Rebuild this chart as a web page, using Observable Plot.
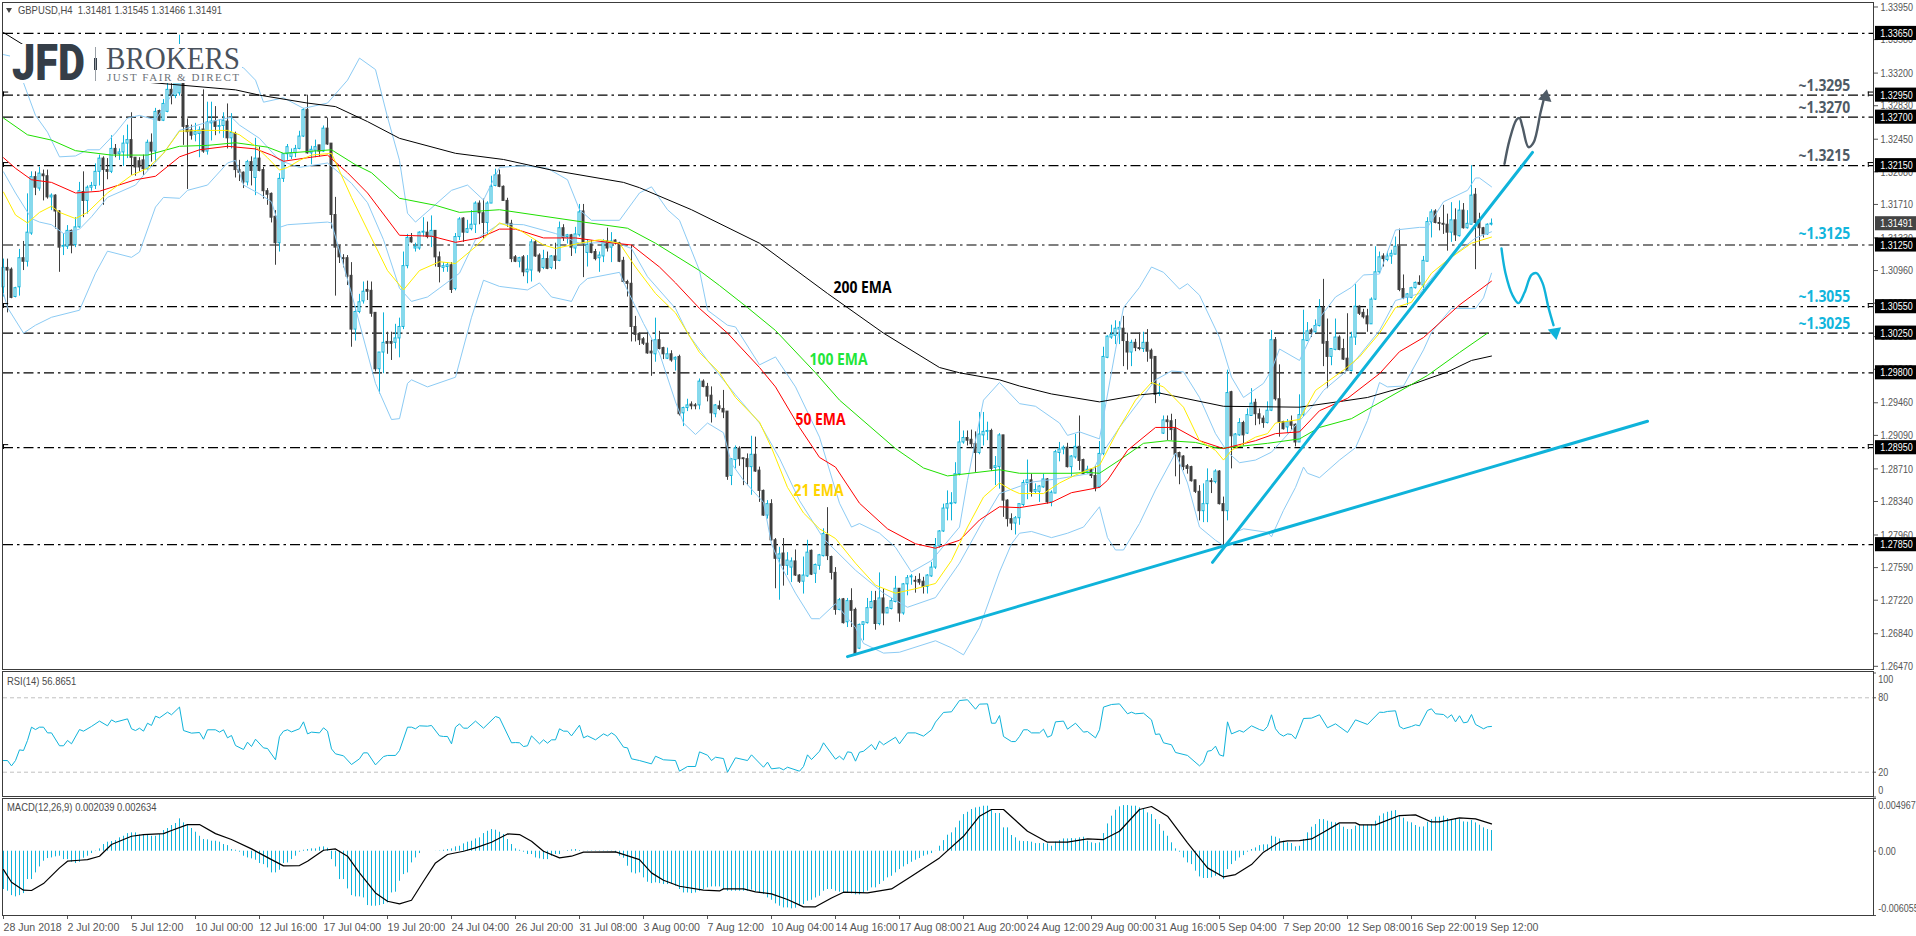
<!DOCTYPE html>
<html><head><meta charset="utf-8">
<script src="https://cdn.jsdelivr.net/npm/d3@7"></script>
<script src="https://cdn.jsdelivr.net/npm/@observablehq/plot@0.6"></script>
<style>
html,body{margin:0;padding:0;background:#fff;overflow:hidden}
#chart{position:relative;width:1916px;height:936px}
#chart>svg{position:absolute;left:0;display:block}
.ptxt{position:absolute;font:11.5px "Liberation Sans",sans-serif;color:#4a4a4a;white-space:pre;line-height:13px;transform:scaleX(.82);transform-origin:left center}
</style></head><body><div id="chart"></div>
<script>
// OHLC readings in pips (price x 10000): [open, high, low, close]
const barsA=[[13077,13109,13066,13099],[13099,13109,13048,13096],[13097,13099,13064,13065],[13066,13077,13065,13076],[13077,13120,13067,13110],[13110,13129,13096,13106],[13106,13183,13100,13139],[13138,13208,13136,13202],[13202,13208,13181,13190],[13189,13213,13186,13206],[13205,13210,13175,13203],[13203,13210,13177,13179],[13179,13183,13164,13181],[13181,13182,13143,13163],[13163,13164,13094,13122],[13123,13138,13113,13124],[13123,13147,13120,13141],[13141,13142,13115,13125],[13125,13156,13122,13145],[13145,13196,13144,13186],[13185,13208,13156,13175],[13175,13192,13160,13190],[13190,13196,13186,13192],[13192,13217,13188,13208],[13208,13227,13192,13223],[13223,13225,13170,13210],[13210,13223,13199,13208],[13208,13249,13206,13234],[13234,13239,13224,13228],[13228,13234,13221,13230],[13230,13249,13214,13240],[13240,13261,13223,13244],[13244,13275,13204,13224],[13224,13224,13203,13213],[13220,13224,13208,13213],[13221,13227,13204,13211],[13211,13244,13210,13241],[13241,13251,13219,13231],[13231,13280,13219,13276],[13277,13278,13265,13266],[13266,13290,13265,13285],[13276,13309,13275,13301],[13301,13308,13284,13294],[13294,13316,13291,13310],[13297,13363,13294,13312],[13310,13314,13238,13259],[13260,13268,13188,13253],[13255,13261,13244,13249],[13250,13263,13242,13253],[13251,13259,13224,13255],[13256,13301,13229,13231],[13231,13287,13227,13264],[13263,13287,13243,13265],[13265,13282,13249,13259],[13259,13267,13251,13260],[13260,13275,13246,13266],[13265,13285,13234,13246],[13246,13274,13234,13252],[13251,13253,13201,13210],[13210,13221,13197,13207],[13207,13208,13189,13196],[13196,13221,13192,13219],[13219,13225,13192,13209],[13201,13246,13181,13223],[13223,13236,13208,13209],[13210,13213,13177,13186],[13186,13189,13170,13182],[13183,13184,13150,13156],[13157,13164,13102,13127],[13127,13206,13117,13200],[13200,13228,13196,13228],[13228,13239,13221,13236],[13225,13234,13222,13229],[13229,13238,13224,13234],[13234,13254,13233,13248],[13248,13280,13247,13278],[13278,13295,13228,13229],[13229,13237,13216,13233],[13232,13244,13224,13236],[13238,13238,13225,13231],[13231,13260,13230,13257],[13257,13269,13238,13239],[13240,13240,13143,13159],[13159,13179,13067,13122],[13123,13124,13104,13111],[13110,13114,13099,13109],[13110,13113,13079,13089],[13090,13105,13009,13029],[13029,13055,13016,13049],[13049,13069,13047,13060],[13061,13083,13058,13072],[13074,13084,13062,13072],[13073,13083,13043,13047],[13048,13048,12981,12984],[12984,13003,12956,13003],[13003,13048,12979,13014],[13015,13026,13001,13013],[13015,13026,12994,13013],[13014,13035,13007,13019],[13019,13042,12997,13032]];
const barsB=[[13032,13117,13029,13101],[13101,13137,13098,13133],[13133,13138,13127,13128],[13121,13127,13117,13123],[13121,13140,13119,13139],[13139,13156,13134,13140],[13139,13151,13132,13134],[13134,13158,13122,13141],[13141,13141,13100,13111],[13111,13117,13082,13100],[13099,13105,13094,13101],[13100,13105,13094,13102],[13102,13105,13070,13074],[13075,13138,13073,13134],[13134,13156,13130,13154],[13155,13156,13128,13139],[13139,13153,13138,13143],[13143,13164,13141,13148],[13148,13174,13138,13172],[13172,13175,13148,13161],[13161,13177,13132,13150],[13150,13174,13136,13172],[13172,13203,13172,13191],[13192,13211,13191,13204],[13204,13210,13190,13191],[13191,13192,13175,13175],[13175,13178,13145,13149],[13149,13153,13105,13109],[13111,13113,13105,13106],[13106,13111,13099,13110],[13111,13113,13089,13094],[13094,13113,13081,13097],[13096,13131,13083,13128],[13128,13130,13111,13112],[13113,13115,13093,13095],[13099,13119,13097,13109],[13109,13117,13097,13098],[13099,13113,13097,13112],[13112,13127,13097,13107],[13107,13151,13106,13144],[13144,13148,13129,13133],[13134,13137,13126,13136],[13136,13137,13112,13122],[13121,13145,13115,13137],[13136,13171,13134,13162],[13163,13171,13088,13126],[13116,13131,13100,13125],[13126,13130,13115,13116],[13117,13120,13107,13109],[13110,13117,13094,13113],[13112,13131,13105,13129],[13129,13144,13117,13121],[13122,13139,13105,13129],[13130,13131,13125,13127],[13127,13128,13105,13106],[13107,13111,13082,13083],[13083,13085,13066,13081],[13081,13125,13015,13032],[13032,13044,13015,13023],[13024,13025,13011,13017],[13018,13020,13011,13013],[13013,13026,13001,13002],[13004,13017,12976,13002],[13001,13042,12992,13017],[13017,13027,13006,13007],[13008,13009,12995,13001],[12996,13008,12995,13001],[13001,13005,12992,12994],[12995,12998,12982,12997],[12998,13000,12931,12933],[12934,12941,12919,12940],[12940,12950,12936,12943],[12944,12947,12938,12942],[12943,12945,12938,12942],[12943,12973,12938,12970],[12970,12972,12963,12964],[12964,12968,12947,12953],[12954,12964,12923,12934],[12933,12944,12929,12943],[12942,12948,12937,12939],[12939,12960,12928,12935],[12936,12936,12858,12862],[12863,12882,12852,12882],[12881,12897,12871,12894],[12894,12896,12874,12882],[12883,12883,12852,12882],[12882,12888,12852,12873],[12873,12908,12841,12887],[12887,12907,12867,12868],[12869,12873,12833,12846],[12846,12847,12817,12818],[12818,12835,12814,12831],[12831,12836,12789,12790],[12790,12792,12735,12769],[12769,12782,12722,12774],[12775,12792,12738,12761],[12761,12776,12750,12767],[12759,12770,12742,12766],[12766,12779,12749,12750],[12750,12751,12741,12743]];
const barsC=[[12743,12771,12729,12750],[12749,12790,12748,12776],[12778,12779,12750,12751],[12752,12763,12741,12762],[12761,12774,12756,12773],[12772,12803,12771,12797],[12796,12827,12767,12772],[12771,12772,12745,12753],[12753,12759,12705,12711],[12711,12724,12710,12722],[12723,12724,12695,12696],[12697,12724,12691,12721],[12721,12735,12691,12710],[12711,12713,12659,12661],[12667,12695,12666,12694],[12694,12697,12676,12697],[12696,12724,12695,12713],[12713,12732,12712,12720],[12721,12732,12688,12695],[12695,12753,12693,12724],[12724,12735,12693,12707],[12707,12714,12707,12713],[12712,12724,12711,12721],[12720,12749,12719,12735],[12735,12735,12697,12707],[12707,12741,12705,12740],[12740,12750,12727,12747],[12748,12751,12739,12749],[12744,12749,12730,12743],[12745,12752,12739,12742],[12743,12748,12729,12737],[12737,12751,12729,12750],[12749,12765,12748,12759],[12759,12792,12757,12783],[12783,12801,12781,12800],[12800,12831,12799,12826],[12826,12846,12812,12831],[12831,12844,12812,12832],[12832,12878,12831,12865],[12865,12925,12863,12901],[12901,12914,12899,12906],[12906,12914,12897,12903],[12904,12915,12894,12899],[12899,12913,12867,12889],[12889,12935,12887,12910],[12909,12935,12897,12913],[12913,12924,12903,12914],[12914,12916,12868,12871],[12872,12885,12852,12874],[12873,12911,12848,12909],[12909,12909,12816,12835],[12835,12836,12805,12814],[12814,12820,12801,12809],[12809,12817,12796,12815],[12815,12831,12807,12831],[12830,12858,12828,12855],[12855,12881,12836,12858],[12858,12865,12839,12845],[12845,12854,12843,12847],[12845,12852,12833,12851],[12850,12865,12849,12859],[12859,12860,12831,12833],[12833,12846,12828,12844],[12843,12892,12843,12890],[12889,12901,12879,12893],[12893,12897,12887,12895],[12895,12900,12872,12873],[12873,12886,12862,12885],[12884,12910,12882,12896],[12896,12931,12869,12880],[12881,12882,12865,12865],[12867,12874,12865,12870],[12870,12871,12860,12863],[12863,12874,12845,12849],[12850,12902,12849,12888],[12888,13009,12886,12998],[12997,13022,12996,13021],[13020,13034,13018,13023],[13022,13039,13012,13030],[13029,13038,13012,13031],[13030,13044,12987,13016],[13015,13025,12983,13003],[13003,13017,12987,13014],[13014,13018,13004,13008],[13008,13025,13005,13007],[13007,13026,13003,13014],[13014,13029,12992,13004],[13005,13007,12967,12996],[12998,12998,12945,12955],[12956,12968,12953,12957],[12911,12931,12910,12926],[12926,12931,12903,12924],[12925,12933,12903,12915],[12916,12927,12862,12887],[12889,12890,12853,12884],[12885,12886,12869,12873],[12874,12876,12865,12871],[12873,12874,12856,12857],[12858,12858,12843,12845],[12845,12852,12812,12823]];
const barsD=[[12823,12854,12810,12831],[12831,12871,12810,12857],[12857,12860,12843,12856],[12856,12870,12854,12868],[12868,12869,12830,12831],[12831,12839,12783,12823],[12823,12983,12812,12957],[12958,12959,12871,12908],[12896,12911,12896,12910],[12909,12928,12908,12923],[12923,12925,12897,12909],[12911,12939,12910,12932],[12931,12962,12931,12945],[12946,12950,12920,12933],[12933,12939,12921,12928],[12928,12931,12917,12923],[12923,12947,12922,12937],[12937,13028,12936,13017],[13017,13020,12948,12950],[12950,12989,12907,12924],[12924,12925,12915,12916],[12918,12927,12911,12924],[12924,12931,12915,12920],[12921,12922,12896,12901],[12901,12955,12901,12932],[12932,13051,12930,13017],[13016,13037,13016,13027],[13028,13030,13020,13026],[13026,13040,13025,13033],[13033,13063,13032,13054],[13054,13086,12987,13013],[13015,13041,12962,12998],[12998,13007,12988,13007],[13006,13041,13005,13020],[13020,13022,13005,13006],[13007,13018,12994,12995],[12996,13047,12982,12982],[12982,13026,12981,13020],[13020,13080,13011,13055],[13055,13056,13045,13047],[13048,13052,13041,13043],[13044,13052,13026,13035],[13035,13065,13035,13063],[13063,13123,13062,13094],[13094,13117,13092,13111],[13112,13115,13100,13109],[13108,13117,13106,13112],[13112,13119,13103,13115],[13114,13134,13114,13123],[13123,13143,13072,13074],[13075,13091,13063,13065],[13065,13070,13056,13069],[13065,13077,13064,13076],[13076,13083,13075,13082],[13082,13090,13079,13080],[13079,13112,13073,13107],[13106,13156,13106,13151],[13151,13165,13133,13162],[13163,13165,13149,13150],[13150,13156,13141,13149],[13149,13170,13137,13148],[13148,13160,13118,13139],[13139,13173,13128,13153],[13153,13166,13129,13136],[13135,13175,13134,13164],[13164,13172,13143,13144],[13144,13164,13143,13149],[13148,13215,13148,13181],[13182,13189,13097,13150],[13153,13161,13124,13144],[13144,13145,13133,13137],[13137,13149,13136,13148],[13148.1,13154.5,13146.6,13149.1]];

// Indicator readings: [bar number, pips]
const ema200=[[0,13366],[5,13352],[19,13324],[35,13310],[58,13301],[64,13295],[76,13286],[83,13282],[91,13265],[99,13246],[113,13229],[125,13222],[137,13210],[155,13196],[159,13190],[172,13165],[189,13127],[206,13070],[220,13025],[234,12986],[239,12980],[249,12972],[254,12965],[262,12956],[274,12947],[284,12955],[289,12957],[305,12942],[324,12941],[335,12948],[341,12952],[351,12965],[361,12981],[367,12994],[372,12999]];
const ema100=[[0,13269],[6,13250],[12,13244],[18,13232],[27,13227],[36,13227],[44,13237],[51,13238],[58,13241],[66,13236],[70,13229],[82,13233],[88,13216],[92,13207],[99,13178],[108,13170],[114,13162],[124,13165],[145,13151],[156,13144],[163,13127],[174,13096],[179,13079],[186,13054],[193,13028],[203,12980],[209,12949],[223,12894],[230,12872],[236,12863],[249,12870],[254,12866],[267,12866],[271,12867],[274,12866],[279,12881],[285,12900],[291,12903],[298,12901],[304,12894],[316,12900],[324,12905],[329,12918],[337,12928],[342,12941],[356,12977],[364,13003],[371,13025]];
const ema50=[[0,13224],[3,13212],[7,13199],[12,13196],[18,13184],[24,13186],[33,13199],[38,13203],[44,13225],[49,13233],[56,13237],[63,13234],[67,13227],[70,13220],[76,13224],[81,13227],[86,13207],[91,13184],[99,13136],[107,13135],[113,13128],[119,13133],[124,13143],[128,13143],[135,13133],[143,13133],[151,13128],[157,13125],[164,13100],[168,13082],[174,13053],[181,13025],[189,12986],[193,12964],[199,12918],[204,12884],[208,12873],[214,12832],[221,12803],[228,12786],[233,12781],[239,12790],[244,12813],[249,12828],[254,12827],[262,12833],[267,12844],[274,12850],[276,12858],[281,12892],[288,12918],[293,12918],[299,12903],[305,12894],[313,12903],[318,12911],[324,12913],[329,12937],[336,12951],[344,12979],[349,13004],[355,13020],[364,13057],[372,13084]];
const ema21=[[0,13185],[3,13159],[6,13150],[9,13162],[12,13169],[14,13162],[18,13155],[21,13162],[26,13184],[32,13204],[36,13212],[40,13229],[44,13254],[49,13255],[56,13255],[59,13250],[63,13237],[66,13224],[69,13210],[71,13213],[74,13221],[77,13227],[82,13229],[87,13179],[91,13142],[96,13096],[100,13074],[104,13096],[109,13106],[113,13104],[118,13123],[124,13150],[129,13142],[135,13125],[138,13121],[144,13127],[149,13131],[154,13127],[158,13100],[163,13070],[168,13048],[174,13003],[179,12980],[183,12952],[189,12924],[192,12895],[196,12850],[200,12821],[204,12803],[208,12792],[213,12764],[218,12739],[223,12730],[228,12735],[233,12741],[237,12767],[241,12805],[245,12839],[249,12855],[252,12847],[254,12843],[260,12843],[264,12855],[268,12864],[274,12875],[279,12918],[283,12949],[287,12969],[290,12964],[295,12941],[299,12903],[303,12892],[305,12881],[307,12892],[313,12907],[316,12911],[318,12923],[324,12927],[328,12960],[335,12983],[339,12998],[344,13025],[348,13054],[352,13060],[357,13093],[361,13108],[367,13127],[372,13134]];
const bbUpper=[[0,13341],[3,13338],[5,13309],[8,13272],[11,13253],[14,13225],[18,13226],[21,13233],[24,13233],[28,13252],[31,13269],[34,13272],[38,13267],[42,13295],[47,13333],[54,13335],[60,13326],[63,13312],[65,13287],[70,13292],[75,13280],[81,13286],[86,13312],[89,13337],[93,13324],[96,13270],[99,13221],[101,13161],[103,13151],[112,13187],[116,13193],[120,13176],[124,13213],[130,13215],[136,13212],[141,13199],[144,13165],[147,13153],[154,13153],[159,13184],[162,13191],[166,13165],[169,13153],[174,13096],[176,13051],[181,13034],[183,13032],[189,12989],[193,12998],[198,12964],[204,12907],[209,12832],[212,12805],[214,12809],[219,12798],[223,12782],[227,12754],[232,12767],[239,12805],[241,12858],[245,12949],[249,12969],[254,12945],[258,12942],[264,12923],[266,12909],[269,12913],[274,12905],[278,13006],[280,13054],[284,13077],[287,13100],[290,13094],[294,13075],[296,13081],[299,13068],[304,13020],[307,12975],[310,12952],[315,12968],[317,12983],[319,13007],[324,12994],[329,13042],[333,13066],[337,13077],[340,13091],[344,13092],[348,13142],[354,13145],[356,13145],[360,13174],[366,13187],[368,13201],[369,13201],[372,13191]];
const bbMiddle=[[0,13208],[3,13184],[7,13155],[9,13151],[12,13148],[15,13138],[19,13143],[22,13157],[26,13179],[33,13193],[35,13204],[40,13229],[44,13255],[50,13263],[57,13270],[59,13261],[64,13246],[69,13221],[74,13213],[81,13218],[87,13195],[91,13173],[95,13131],[99,13076],[102,13061],[106,13066],[109,13076],[114,13093],[118,13131],[124,13149],[130,13148],[138,13138],[144,13127],[153,13128],[157,13121],[161,13089],[168,13053],[171,13025],[176,12994],[183,12955],[189,12923],[194,12883],[199,12835],[205,12792],[213,12756],[220,12730],[226,12714],[233,12725],[239,12764],[244,12805],[249,12843],[257,12856],[264,12860],[272,12866],[274,12884],[279,12918],[288,12972],[292,12982],[295,12981],[299,12952],[303,12911],[306,12890],[309,12878],[313,12881],[317,12890],[322,12915],[327,12941],[330,12960],[336,12983],[344,13028],[348,13062],[354,13070],[360,13104],[368,13133],[372,13140]];
const bbLower=[[0,13070],[1,13054],[5,13025],[8,13034],[12,13043],[19,13051],[23,13093],[26,13118],[32,13111],[34,13117],[38,13168],[40,13179],[44,13178],[46,13187],[51,13193],[56,13218],[58,13221],[60,13193],[64,13183],[67,13174],[69,13145],[71,13148],[81,13151],[82,13150],[87,13070],[93,12968],[97,12927],[99,12928],[101,12968],[102,12972],[106,12964],[113,12975],[117,13043],[120,13085],[124,13078],[131,13074],[134,13082],[137,13066],[142,13061],[144,13079],[146,13087],[154,13094],[155,13083],[160,13036],[164,13002],[168,12947],[170,12923],[173,12910],[176,12923],[180,12912],[182,12877],[185,12858],[190,12833],[192,12786],[194,12764],[198,12730],[202,12701],[204,12701],[208,12718],[213,12691],[215,12673],[220,12662],[224,12663],[233,12676],[237,12668],[240,12660],[244,12691],[249,12754],[252,12786],[254,12798],[257,12800],[262,12793],[266,12798],[270,12805],[274,12828],[276,12793],[278,12779],[280,12779],[284,12809],[288,12847],[293,12889],[296,12855],[299,12805],[303,12790],[305,12784],[308,12799],[310,12803],[316,12799],[317,12794],[320,12824],[323,12850],[325,12873],[326,12866],[329,12861],[334,12881],[338,12895],[341,12926],[344,12969],[346,12964],[350,12965],[355,13006],[357,13026],[362,13053],[368,13053],[370,13065],[372,13093]];
const rsiLine=[[0,29.4],[1,29.4],[2,25.1],[3,29.4],[4,38],[5,37.5],[6,45.6],[7,56.3],[8,54.4],[9,56.3],[10,56.3],[11,51.7],[12,51.7],[14,41.3],[15,41.3],[16,45.6],[17,42.9],[19,54.4],[20,53.1],[22,56.9],[24,61.2],[26,57.4],[27,62.2],[28,60.4],[31,63],[32,55],[33,53.6],[34,55.5],[35,53.1],[36,59.5],[37,57.7],[38,65.2],[39,63.8],[41,68.4],[42,66.3],[44,72.5],[45,53.6],[47,51.5],[49,52],[50,46.6],[51,54.2],[53,54.2],[54,52.3],[55,54.2],[56,47.7],[57,49.6],[58,41.5],[60,38.3],[61,44.2],[62,40.7],[63,46.6],[65,39.6],[66,39.1],[68,30],[69,48.8],[70,53.1],[71,54.2],[72,52.5],[74,55],[75,60.6],[76,50.9],[77,52.3],[79,51.7],[80,55.8],[81,53.1],[82,38.8],[83,34.8],[85,33.2],[87,26.2],[89,30.8],[90,35.6],[91,35.6],[93,25.9],[95,32.6],[96,33.5],[98,33.5],[99,37.5],[101,56.3],[102,56.3],[103,55],[104,57.4],[106,57.1],[107,57.7],[109,49.3],[110,48.8],[111,48.8],[112,42.9],[113,56.3],[114,59],[115,55.5],[116,55.5],[118,61.2],[120,55.5],[123,64.9],[124,63.8],[127,43.7],[128,43.9],[129,43.7],[130,40.7],[131,41.3],[132,49.3],[134,42.9],[135,46.1],[136,43.4],[137,46.1],[138,46.1],[139,55],[140,53.1],[141,53.1],[142,49.3],[144,57.9],[145,47.7],[146,49.3],[148,46.1],[150,50.9],[151,49.3],[152,51.7],[153,49.6],[155,40.2],[156,39.6],[157,30.8],[159,29.4],[162,26.7],[163,32.9],[165,30],[168,29.4],[169,20.8],[171,24.6],[173,24.6],[174,36.4],[176,33.7],[177,29.4],[178,32.1],[180,31],[181,20],[183,31.6],[186,29.4],[187,34],[190,24],[191,28.1],[192,22.7],[194,23.5],[195,21.9],[196,24],[199,20.8],[200,24.6],[201,34],[202,30.2],[204,36.9],[205,43.7],[208,30.5],[209,32.9],[210,30],[211,36.4],[212,35.9],[213,28.9],[214,36.1],[215,36.9],[217,42.3],[218,38],[219,45],[220,42.1],[223,48.2],[224,42.9],[226,51.7],[228,51.7],[230,49.1],[232,54.2],[233,60.4],[235,68.2],[237,68.7],[239,77.8],[241,78.4],[243,70.8],[244,74.9],[246,75.1],[247,59.5],[248,59.5],[249,65.7],[250,48.8],[252,44.7],[253,44.7],[254,48.8],[255,54.2],[256,54.2],[257,51.7],[259,51.7],[260,54.7],[261,48.2],[262,49.6],[263,60.6],[265,61.2],[266,54.7],[268,59.5],[270,52.3],[271,52.8],[273,47.7],[274,54.2],[275,72.5],[277,74.6],[279,75.1],[281,67.1],[282,68.4],[283,67.1],[285,67.6],[287,62.2],[288,50.4],[289,50.9],[290,43.7],[292,42.1],[293,35.9],[296,33.5],[299,25.1],[300,28.1],[301,36.9],[302,37.5],[303,41],[304,34],[305,32.9],[306,60.6],[307,50.9],[309,53.6],[310,52.3],[312,57.4],[314,54.4],[315,53.4],[316,56.9],[317,66.3],[318,55],[319,50.9],[320,49.1],[321,50.9],[322,50.4],[323,46.9],[324,55],[325,63.3],[327,63.6],[329,66.3],[331,55.8],[333,59],[336,52],[338,62.2],[341,58.5],[344,68.4],[345,68.2],[346,69],[348,69.5],[349,56.9],[350,55],[352,56.9],[353,58.2],[354,57.4],[356,69.8],[357,71.1],[358,67.1],[360,66.5],[361,63.8],[362,66.3],[363,60.6],[364,65.5],[365,59.8],[366,60.4],[367,66.5],[368,58.5],[370,55],[371,56.6],[372,56.9]];
// MACD histogram, one value per bar, in units of 0.00001
const macdHist=[-361,-377,-418,-430,-418,-399,-267,-267,-204,-148,-94,-69,-63,-53,-47,-79,-79,-104,-116,-104,-66,-47,-22,-3,22,63,85,91,100,126,141,166,173,173,154,148,154,141,141,157,195,214,242,261,305,267,242,214,179,141,110,107,94,94,85,63,53,16,9,-9,-47,-63,-72,-85,-116,-126,-157,-204,-204,-179,-116,-110,-79,-47,-9,9,16,22,22,38,41,28,-79,-148,-267,-267,-355,-418,-430,-430,-440,-512,-518,-518,-512,-502,-487,-393,-386,-283,-220,-204,-110,-63,-22,0,0,0,1,3,9,16,22,41,47,69,85,94,116,126,166,188,204,198,179,157,110,63,22,9,-9,-31,-31,-63,-72,-79,-79,-47,-31,-31,-1,6,13,16,6,1,3,3,3,3,3,3,3,-16,-47,-66,-141,-204,-214,-204,-251,-292,-305,-298,-305,-314,-314,-314,-330,-361,-393,-393,-399,-393,-377,-361,-345,-336,-336,-336,-361,-377,-377,-377,-377,-377,-377,-367,-383,-393,-408,-440,-462,-496,-518,-534,-534,-543,-537,-518,-502,-471,-462,-440,-424,-377,-361,-361,-377,-386,-393,-393,-402,-411,-411,-393,-377,-345,-345,-314,-283,-251,-236,-204,-173,-148,-126,-104,-85,-69,-47,-35,-22,1,47,100,151,173,220,283,345,367,393,408,414,424,424,393,355,355,220,220,148,126,94,91,91,85,72,72,72,69,47,85,100,116,116,119,116,126,132,94,79,72,79,166,257,330,386,418,430,430,424,424,408,393,361,345,298,251,188,141,79,22,-9,-63,-110,-126,-188,-242,-257,-257,-251,-236,-236,-267,-173,-126,-94,-63,-41,-9,16,31,53,60,60,141,132,116,94,79,72,41,47,110,173,226,251,298,298,283,273,267,251,226,204,204,236,245,245,245,251,283,330,352,367,377,383,336,311,276,267,242,226,229,273,298,320,320,330,308,298,305,298,276,273,289,267,245,220,204,195];
const macdSignal=[[0,-173],[2,-292],[5,-367],[7,-370],[10,-305],[14,-157],[16,-94],[19,-85],[21,-79],[24,-47],[27,63],[32,141],[35,157],[40,166],[42,195],[46,251],[49,251],[53,166],[57,110],[62,22],[67,-79],[70,-138],[74,-135],[76,-94],[80,9],[83,22],[86,-47],[89,-204],[93,-393],[96,-471],[99,-496],[102,-462],[105,-283],[108,-110],[111,-31],[115,0],[118,31],[122,85],[126,163],[129,157],[132,94],[135,0],[139,-63],[142,-47],[145,-9],[153,-6],[159,-79],[162,-204],[165,-273],[169,-330],[175,-367],[179,-374],[180,-355],[185,-355],[188,-383],[192,-402],[196,-455],[200,-524],[203,-524],[207,-440],[210,-386],[216,-393],[222,-355],[227,-236],[234,-63],[240,141],[244,330],[247,393],[250,393],[256,188],[261,85],[266,85],[271,116],[275,110],[279,188],[284,393],[287,421],[291,330],[296,79],[301,-157],[305,-242],[308,-220],[312,-126],[315,-9],[319,85],[321,97],[324,100],[327,116],[330,179],[334,267],[338,267],[339,248],[343,248],[349,336],[353,342],[357,276],[359,276],[364,314],[368,305],[372,257]];

const levels=[1.3365,1.3295,1.3270,1.3215,1.3125,1.3055,1.3025,1.2980,1.2895,1.2785];
const hookLevels=[1.3295,1.3215,1.3055,1.2895];
const priceTicks=[1.3395,1.3358,1.332,1.3283,1.3245,1.3208,1.3171,1.3133,1.3096,1.3059,1.3021,1.2984,1.2946,1.2909,1.2871,1.2834,1.2796,1.2759,1.2722,1.2684,1.2647];
const lastPrice=1.31491;
const timeLabels=["28 Jun 2018","2 Jul 20:00","5 Jul 12:00","10 Jul 00:00","12 Jul 16:00","17 Jul 04:00","19 Jul 20:00","24 Jul 04:00","26 Jul 20:00","31 Jul 08:00","3 Aug 00:00","7 Aug 12:00","10 Aug 04:00","14 Aug 16:00","17 Aug 08:00","21 Aug 20:00","24 Aug 12:00","29 Aug 00:00","31 Aug 16:00","5 Sep 04:00","7 Sep 20:00","12 Sep 08:00","16 Sep 22:00","19 Sep 12:00"];
const trendLow=[[211,12658],[411,12925]];
const trendHigh=[[302.25,12765],[382.25,13230]];
const swingUp=[[375.25,13217],[376.5,13244],[378.25,13267],[379,13269],[379.75,13259],[381.25,13236],[382.5,13241],[384.25,13275],[385,13289]];
const swingDown=[[374.5,13121],[375.5,13093],[377.25,13068],[378.75,13059],[380.25,13071],[382,13091],[383.25,13093],[384.75,13082],[386.25,13054],[387.5,13034]];
const emaLabels=[["200 EMA",214.75,13076,"#000000"],["100 EMA",208.75,12995,"#1fe63a"],["50 EMA",204.25,12927,"#ff0000"],["21 EMA",203.75,12846,"#ffd400"]];
const levelLabels=[["~1.3295",13305,"#4f5b66"],["~1.3270",13280,"#4f5b66"],["~1.3215",13226,"#4f5b66"],["~1.3125",13138,"#12b5dc"],["~1.3055",13066,"#12b5dc"],["~1.3025",13036,"#12b5dc"]];

const CY="#0fb3da",DK="#3f3f3f",BB="#8ccbf4";
const xDomain=[-0.25,467.5];
const candles=[...barsA,...barsB,...barsC,...barsD].map((r,i)=>({bar:i,o:r[0]/1e4,h:r[1]/1e4,l:r[2]/1e4,c:r[3]/1e4,up:r[3]>=r[0]}));
const toPts=a=>a.map(d=>({bar:d[0],v:d[1]/1e4}));
const lineMark=(a,stroke,w=1,extra={})=>Plot.line(toPts(a),{x:"bar",y:"v",stroke,strokeWidth:w,curve:"linear",...extra});
const host=document.getElementById("chart");
function add(svg,top){svg.style.top=top+"px";host.appendChild(svg);}
const plotStyle={background:"transparent",overflow:"visible",fontFamily:'"Liberation Sans",sans-serif',fontSize:"11.5px"};
const small={fill:"#555",fontSize:11.5,textAnchor:"start",x:468.7};

add(Plot.plot({width:1916,height:670,marginLeft:2,marginRight:43,marginTop:2,marginBottom:1,
  style:plotStyle,
  x:{domain:xDomain,axis:null},
  y:{domain:[1.26434,1.34001],axis:null},
  marks:[
    Plot.axisY({anchor:"right",ticks:priceTicks,tickFormat:d=>d.toFixed(5),tickSize:4,tickPadding:3,label:null,fontSize:11.5,color:"#555",fontVariant:"normal"}),
    Plot.ruleY(levels,{y:d=>d,x1:0,x2:467.5,stroke:"#000",strokeWidth:1.2,strokeDasharray:"10,4,2.5,4"}),
    Plot.ruleX(candles,{x:"bar",y1:"l",y2:"h",stroke:d=>d.up?CY:DK,strokeWidth:1}),
    Plot.rect(candles,{x1:d=>d.bar-0.25,x2:d=>d.bar+0.25,y1:d=>Math.min(d.o,d.c),y2:d=>Math.max(d.o,d.c),fill:d=>d.up?"#fff":DK,stroke:d=>d.up?CY:DK,strokeWidth:1}),
    lineMark(bbUpper,BB),lineMark(bbMiddle,BB),lineMark(bbLower,BB),
    lineMark(ema200,"#000"),lineMark(ema100,"#1fe000"),lineMark(ema50,"#ff0000"),lineMark(ema21,"#ffee00"),
    lineMark(trendLow,CY,3),lineMark(trendHigh,CY,3),
    lineMark(swingUp,"#4f5b66",2.4,{curve:"catmull-rom"}),
    lineMark(swingDown,CY,2.4,{curve:"catmull-rom"}),
    Plot.dot([[385.5,13293,"#4f5b66",10]],{x:d=>d[0],y:d=>d[1]/1e4,symbol:"triangle",r:5,fill:d=>d[2],rotate:d=>d[3]}),
    Plot.dot([[387.9,13026,CY,170]],{x:d=>d[0],y:d=>d[1]/1e4,symbol:"triangle",r:5,fill:d=>d[2],rotate:d=>d[3]}),
    Plot.text(emaLabels,{x:d=>d[1],y:d=>d[2]/1e4,text:d=>d[0],fill:d=>d[3],fontSize:16,fontWeight:"bold",fontFamily:"Open Sans",textAnchor:"middle"}),
    Plot.text(levelLabels,{x:448.75,y:d=>d[1]/1e4,text:d=>d[0],fill:d=>d[2],fontSize:16,fontWeight:"bold",fontFamily:"Open Sans",textAnchor:"start"}),
    Plot.ruleY(hookLevels,{y:d=>d+0.00035,x1:466.2,x2:467.5,stroke:"#000"}),
    Plot.ruleX(hookLevels,{x:466.2,y1:d=>d+0.00035,y2:d=>d-0.0002,stroke:"#000"}),
    Plot.ruleY(hookLevels,{y:d=>d+0.00035,x1:0,x2:1.3,stroke:"#000"}),
    Plot.ruleX(hookLevels,{x:0,y1:d=>d+0.00035,y2:d=>d-0.0002,stroke:"#000"}),
    Plot.rect(levels,{x1:468,x2:478.5,y1:d=>d-0.0008,y2:d=>d+0.0008,fill:"#000"}),
    Plot.text(levels,{x:469.2,y:d=>d,text:d=>d.toFixed(5),fill:"#fff",fontSize:11.5,textAnchor:"start"}),
    Plot.rect([lastPrice],{x1:468,x2:478.5,y1:d=>d-0.0008,y2:d=>d+0.0008,fill:"#444"}),
    Plot.text([lastPrice],{x:469.2,y:d=>d,text:d=>d.toFixed(5),fill:"#fff",fontSize:11.5,textAnchor:"start"}),
    Plot.frame({stroke:"#3c3c3c"})
  ]}),0);

add(Plot.plot({width:1916,height:127,marginLeft:2,marginRight:43,marginTop:1,marginBottom:1,
  style:plotStyle,
  x:{domain:xDomain,axis:null},
  y:{domain:[0.4,101.2],axis:null},
  marks:[
    Plot.ruleY([80,20],{y:d=>d,x1:0,x2:467.5,stroke:"#c0c0c0",strokeDasharray:"4,3"}),
    Plot.ruleY([100,80,20,0],{y:d=>d,x1:467.5,x2:468.25,stroke:"#555"}),
    Plot.line(rsiLine,{x:d=>d[0],y:d=>d[1],stroke:CY,strokeWidth:1}),
    Plot.text([80,20],{y:d=>d,text:d=>String(d),...small}),
    Plot.text([100],{y:d=>d,dy:6,text:d=>String(d),...small}),
    Plot.text([0],{y:d=>d,dy:-7,text:d=>String(d),...small}),
    Plot.frame({stroke:"#3c3c3c"})
  ]}),670);

add(Plot.plot({width:1916,height:139,marginLeft:2,marginRight:43,marginTop:1,marginBottom:21,
  style:plotStyle,
  x:{domain:xDomain},
  y:{domain:[-0.006055,0.004967],axis:null},
  marks:[
    Plot.ruleX(macdHist,{x:(d,i)=>i,y1:0,y2:d=>d/1e5,stroke:CY,strokeWidth:1}),
    Plot.line(macdSignal,{x:d=>d[0],y:d=>d[1]/1e5,stroke:"#000",strokeWidth:1.2}),
    Plot.axisX({anchor:"bottom",ticks:timeLabels.map((d,i)=>i*16),tickFormat:d=>timeLabels[d/16],tickSize:4,tickPadding:3,textAnchor:"start",label:null,fontSize:11.5,color:"#555"}),
    Plot.ruleY([0.004967,0,-0.006055],{y:d=>d,x1:467.5,x2:468.25,stroke:"#555"}),
    Plot.text([0.004967],{y:d=>d,dy:7,text:d=>d.toFixed(6),...small}),
    Plot.text([0],{y:d=>d,text:d=>d.toFixed(2),...small}),
    Plot.text([-0.006055],{y:d=>d,dy:-7,text:d=>d.toFixed(6),...small}),
    Plot.frame({stroke:"#3c3c3c"})
  ]}),797);

// MT4 fonts are condensed: squeeze the small sans labels, and the bold callouts slightly
host.querySelectorAll("svg text").forEach(t=>{
  const bold=getComputedStyle(t).fontWeight>=600;
  const isTime=timeLabels.includes(t.textContent);
  const k=bold?0.87:isTime?0.92:0.78;
  const n=t.getComputedTextLength();
  if(n>0){t.setAttribute("textLength",(n*k).toFixed(1));t.setAttribute("lengthAdjust","spacingAndGlyphs");}
});

// header texts
[["GBPUSD,H4  1.31481 1.31545 1.31466 1.31491",18,4],["RSI(14) 56.8651",7,675],["MACD(12,26,9) 0.002039 0.002634",7,801]].forEach(([t,l,tp])=>{
  const d=document.createElement("div");d.className="ptxt";d.textContent=t;d.style.left=l+"px";d.style.top=tp+"px";host.appendChild(d);
});
const tri=document.createElement("div");tri.style.cssText="position:absolute;left:6px;top:8px;width:0;height:0;border-left:3.5px solid transparent;border-right:3.5px solid transparent;border-top:5px solid #444";host.appendChild(tri);
// broker mark
const logo=document.createElementNS("http://www.w3.org/2000/svg","svg");
logo.setAttribute("width","232");logo.setAttribute("height","40");
logo.style.cssText="position:absolute;left:10px;top:44px;overflow:visible";
logo.innerHTML=`<rect width="232" height="39" fill="#fff"/>
<text x="2" y="36" font-family="Roboto" font-weight="900" font-size="50" textLength="73" lengthAdjust="spacingAndGlyphs" fill="#353e48">JFD</text>
<rect x="84" y="14" width="3" height="12" fill="#353e48"/><rect x="85" y="3" width="1" height="34" fill="#9aa0a6"/>
<text x="96" y="25" font-family="Liberation Serif" font-size="32" textLength="134" lengthAdjust="spacingAndGlyphs" fill="#4a525c">BROKERS</text>
<text x="97" y="37" font-family="Liberation Serif" font-size="11" textLength="132" lengthAdjust="spacing" fill="#6b7178">JUST FAIR &amp; DIRECT</text>`;
host.appendChild(logo);
</script></body></html>
